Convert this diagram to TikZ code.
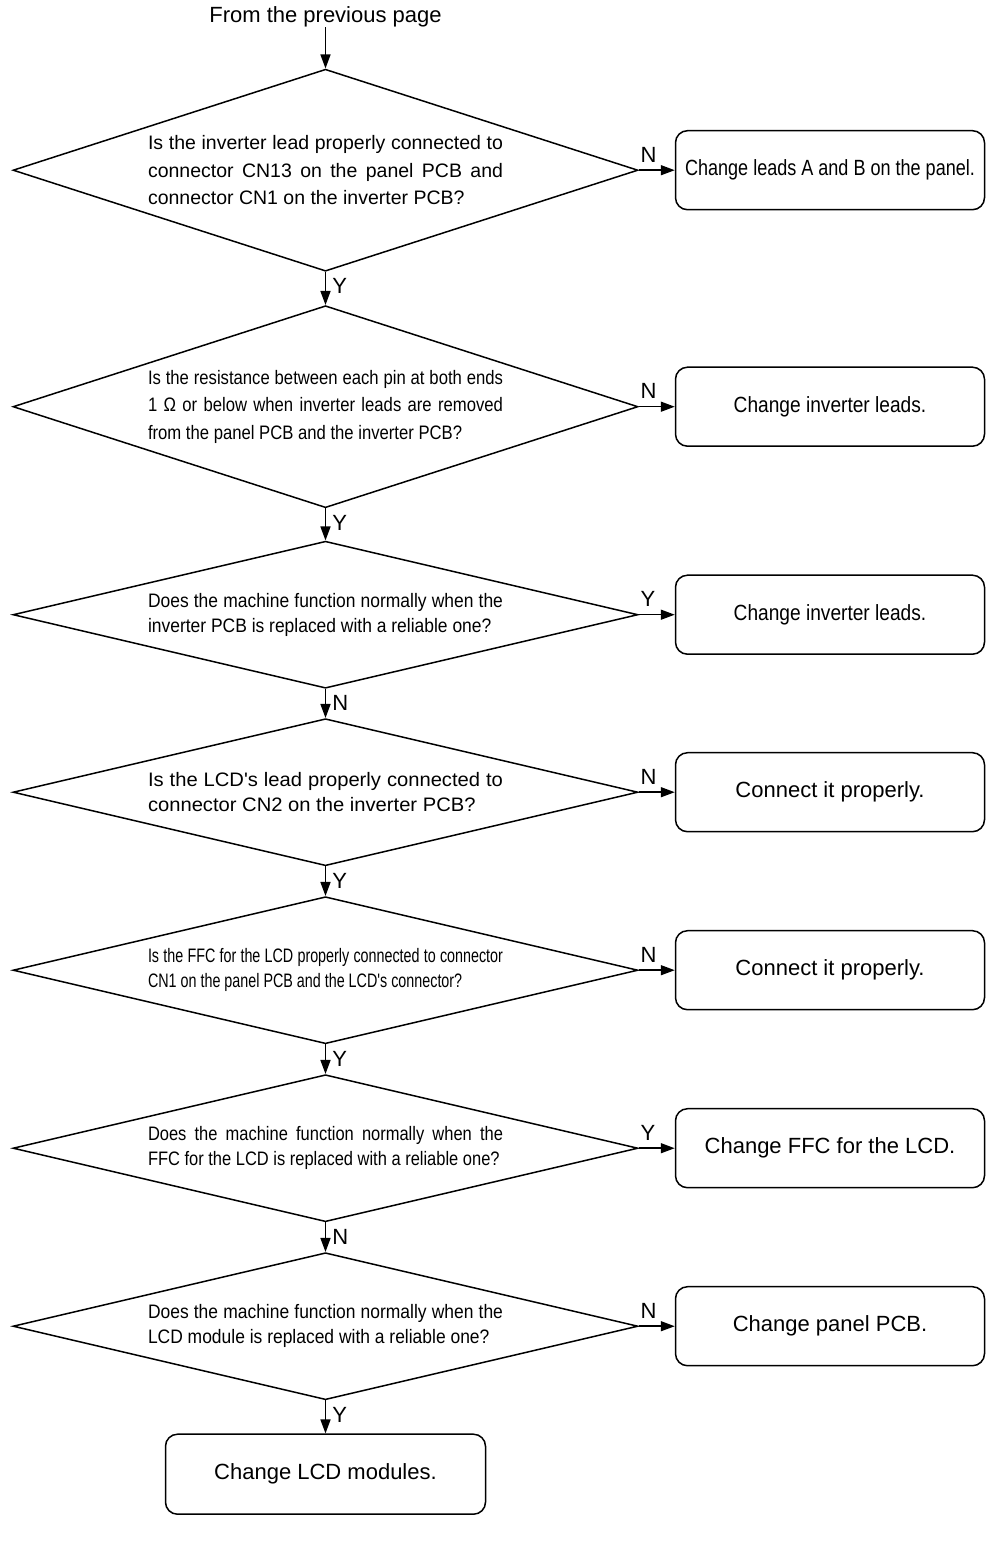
\documentclass[tikz,border=0pt]{standalone}
\usepackage{fontspec}
\setmainfont{Liberation Sans}
\usepackage{tikz}
\usetikzlibrary{shapes.geometric,arrows.meta,positioning}
\newcommand{\qfont}[1]{\fontspec[FakeStretch=#1]{Liberation Sans}}
\tolerance=10000
\hyphenpenalty=10000

\begin{document}
\begin{tikzpicture}[
x=1pt, y=1pt,
node distance=29.5pt,
decision/.style={
    draw,
    diamond,
    line width=1.5pt,
    shape aspect=4.25,
    minimum width=625pt,
    minimum height=147pt,
    inner sep=0pt,
    text width=355pt,
    align=justify,
    font=\fontsize{19.5}{25}\selectfont
},
tall/.style={
    shape aspect=3.09,
    minimum height=202pt,
    font=\fontsize{19.5}{27.5}\selectfont
},
action/.style={
    draw,
    rectangle,
    rounded corners=12pt,
    line width=1.5pt,
    minimum width=309pt,
    minimum height=79pt,
    align=center,
    font=\fontsize{22}{26}\selectfont
},
yn/.style={
    inner sep=0pt,
    font=\fontsize{22}{22}\selectfont
},
downtag/.style={yn, pos=0, anchor=north west, xshift=6pt, yshift=-6pt},
sidetag/.style={yn, pos=0, anchor=south west, xshift=1pt, yshift=7pt},
arrow/.style={
    -{Triangle[length=14pt,width=10pt]},
    line width=1.5pt
}
]

\useasboundingbox (0,0) rectangle (986,-1547);

\node[yn] (prev) at (325.5,-17) {From the previous page};

\node[decision, tall, below=41pt of prev] (q1)
{Is the inverter lead properly connected to\linebreak connector CN13 on the panel PCB and\linebreak connector CN1 on the inverter PCB?};

\node[decision, tall, below=33pt of q1] (q2)
{\qfont{0.855}Is the resistance between each pin at both ends\linebreak 1 Ω or below when inverter leads are removed\linebreak from the panel PCB and the inverter PCB?};

\node[decision, below=32pt of q2] (q3)
{\qfont{0.895}Does the machine function normally when the\linebreak inverter PCB is replaced with a reliable one?};

\node[decision, below=29pt of q3] (q4)
{\qfont{1.035}Is the LCD's lead properly connected to\linebreak connector CN2 on the inverter PCB?};

\node[decision, below=of q4] (q5)
{\qfont{0.735}Is the FFC for the LCD properly connected to connector\linebreak CN1 on the panel PCB and the LCD's connector?};

\node[decision, below=of q5] (q6)
{\qfont{0.845}Does the machine function normally when the\linebreak FFC for the LCD is replaced with a reliable one?};

\node[decision, below=of q6] (q7)
{\qfont{0.895}Does the machine function normally when the\linebreak LCD module is replaced with a reliable one?};

\node[action, minimum width=320pt, minimum height=80pt, below=33pt of q7] (lcd)
{Change LCD modules.};

\node[action, right=36pt of q1] (a1) {\qfont{0.82}Change leads A and B on the panel.};
\node[action, right=36pt of q2] (a2) {\qfont{0.87}Change inverter leads.};
\node[action, right=36pt of q3] (a3) {\qfont{0.87}Change inverter leads.};
\node[action, right=36pt of q4] (a4) {Connect it properly.};
\node[action, right=36pt of q5] (a5) {Connect it properly.};
\node[action, right=36pt of q6] (a6) {Change FFC for the LCD.};
\node[action, right=36pt of q7] (a7) {Change panel PCB.};

\draw[arrow] (prev) -- (q1);
\draw[arrow] (q1) -- node[downtag] {Y} (q2);
\draw[arrow] (q2) -- node[downtag] {Y} (q3);
\draw[arrow] (q3) -- node[downtag] {N} (q4);
\draw[arrow] (q4) -- node[downtag] {Y} (q5);
\draw[arrow] (q5) -- node[downtag] {Y} (q6);
\draw[arrow] (q6) -- node[downtag] {N} (q7);
\draw[arrow] (q7) -- node[downtag] {Y} (lcd);

\draw[arrow] (q1) -- node[sidetag] {N} (a1);
\draw[arrow] (q2) -- node[sidetag] {N} (a2);
\draw[arrow] (q3) -- node[sidetag] {Y} (a3);
\draw[arrow] (q4) -- node[sidetag] {N} (a4);
\draw[arrow] (q5) -- node[sidetag] {N} (a5);
\draw[arrow] (q6) -- node[sidetag] {Y} (a6);
\draw[arrow] (q7) -- node[sidetag] {N} (a7);

\end{tikzpicture}
\end{document}
